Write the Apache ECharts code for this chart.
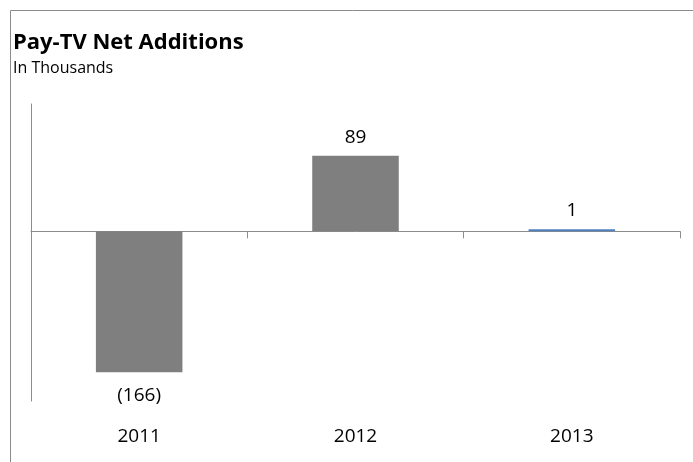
<!DOCTYPE html>
<html>
<head>
<meta charset="utf-8">
<script src="https://cdn.jsdelivr.net/npm/echarts@6/dist/echarts.min.js"></script>
<style>html,body{margin:0;padding:0;background:#fff}#c{width:693px;height:462px}</style>
</head>
<body>
<div id="c"></div>
<script>
var categories = ['2011', '2012', '2013'];
var values = [-166, 89, 1];
var barColors = ['#7F7F7F', '#7F7F7F', '#4F81BD'];
var titleText = 'Pay-TV Net Additions';
var subtitleText = 'In Thousands';

var chart = echarts.init(document.getElementById('c'));
var FONT = 'Open Sans';
chart.setOption({
  animation: false,
  backgroundColor: '#fff',
  title: {
    text: titleText,
    subtext: subtitleText,
    left: 8, top: 27,
    itemGap: 6,
    textStyle: {fontFamily: FONT, fontWeight: 'bold', fontSize: 22, color: '#000'},
    subtextStyle: {fontFamily: FONT, fontSize: 16, color: '#000'}
  },
  graphic: [{
    type: 'rect', silent: true,
    shape: {x: 10.5, y: 10.5, width: 720, height: 500},
    style: {fill: 'none', stroke: '#8C8C8C', lineWidth: 1}
  }],
  grid: {left: 31, right: 13, top: 104, bottom: 61},
  xAxis: [{
    type: 'category', data: categories,
    axisLine: {onZero: true, lineStyle: {color: '#8C8C8C', width: 1}},
    axisTick: {show: true, length: 7, alignWithLabel: false, lineStyle: {color: '#8C8C8C'}},
    axisLabel: {show: false}
  }, {
    type: 'category', data: categories, position: 'bottom',
    axisLine: {show: false}, axisTick: {show: false},
    axisLabel: {margin: 26, fontFamily: FONT, fontSize: 19, color: '#000'}
  }],
  yAxis: {
    type: 'value', min: -200, max: 150,
    axisLine: {show: true, lineStyle: {color: '#8C8C8C'}},
    axisTick: {show: false}, axisLabel: {show: false}, splitLine: {show: false}
  },
  series: [{
    type: 'bar', xAxisIndex: 0,
    barWidth: '40%',
    barMinHeight: 2,
    z: 3,
    data: values.map(function (v, i) {
      return {value: v, itemStyle: {color: barColors[i]}, label: {distance: v < 0 ? 14 : 9}};
    }),
    label: {
      show: true, position: 'outside', distance: 9,
      fontFamily: FONT, fontSize: 19, color: '#000',
      formatter: function (p) { return p.value < 0 ? '(' + Math.abs(p.value) + ')' : String(p.value); }
    }
  }]
});
</script>
</body>
</html>
